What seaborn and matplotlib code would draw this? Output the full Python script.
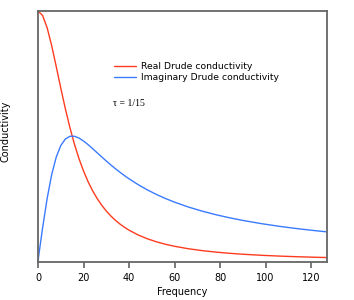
import matplotlib
matplotlib.use("Agg")
import matplotlib.pyplot as plt
import seaborn as sns
import pandas as pd

frequency = [0, 2, 4, 6, 8, 10, 12, 14, 16, 18, 20, 22, 24, 26, 28, 30, 32, 34, 36, 38, 40,
             44, 48, 52, 56, 60, 66, 72, 78, 84, 90, 98, 106, 114, 122, 128]
real_sigma = [1.0, 0.9825, 0.9336, 0.8621, 0.7785, 0.6923, 0.6098, 0.5344, 0.4678, 0.4098,
              0.3600, 0.3174, 0.2809, 0.2497, 0.2230, 0.2000, 0.1801, 0.1629, 0.1479, 0.1348,
              0.1233, 0.1041, 0.0890, 0.0768, 0.0669, 0.0588, 0.0491, 0.0416, 0.0357, 0.0309,
              0.0270, 0.0229, 0.0196, 0.0170, 0.0149, 0.0135]
imag_sigma = [0.0, 0.1310, 0.2490, 0.3448, 0.4152, 0.4615, 0.4878, 0.4988, 0.4990, 0.4918,
              0.4800, 0.4655, 0.4494, 0.4328, 0.4163, 0.4000, 0.3843, 0.3693, 0.3550, 0.3415,
              0.3288, 0.3054, 0.2847, 0.2663, 0.2499, 0.2353, 0.2161, 0.1997, 0.1855, 0.1731,
              0.1622, 0.1496, 0.1387, 0.1293, 0.1211, 0.1156]
series_names = ["Real Drude conductivity", "Imaginary Drude conductivity"]
x_ticks = [0, 20, 40, 60, 80, 100, 120]

df = pd.DataFrame({
    "Frequency": frequency * 2,
    "Conductivity": real_sigma + imag_sigma,
    "series": [series_names[0]] * len(frequency) + [series_names[1]] * len(frequency),
})

sns.set_style("ticks")
plt.rcParams['font.family'] = ['DejaVu Sans']
plt.rcParams['text.color'] = 'black'
plt.rcParams['axes.labelcolor'] = 'black'

fig = plt.figure(figsize=(3.54, 3.0), dpi=100)
ax = fig.add_axes([0.1073, 0.1267, 0.8167, 0.8366])

sns.lineplot(data=df, x="Frequency", y="Conductivity", hue="series",
             palette={series_names[0]: "#ff3b1f", series_names[1]: "#3a7bff"},
             linewidth=1.0, ax=ax)

ax.set_xlim(0, 127)
ax.set_ylim(-0.004, 1.0)
ax.set_xticks(x_ticks)
ax.set_yticks([])
ax.tick_params(axis='x', direction='out', length=4, width=1.1, colors='#555555',
               labelsize=7, labelcolor='black', pad=4)
for s in ax.spines.values():
    s.set_visible(True)
    s.set_color('#666666')
    s.set_linewidth(1.3)
ax.set_xlabel("Frequency", fontsize=7, labelpad=3, color='black')
ax.set_ylabel("Conductivity", fontsize=7, color='black')
ax.yaxis.set_label_coords(-0.096, 0.52)

leg = ax.legend(loc='upper left', bbox_to_anchor=(0.262, 0.795), frameon=False,
                fontsize=6.7, handlelength=2.4, handletextpad=0.5, labelspacing=0.2,
                borderaxespad=0, borderpad=0, labelcolor='black')
ax.text(0.26, 0.63, "τ = 1/15", transform=ax.transAxes, fontsize=7, color='black',
        family='Liberation Serif', va='center', ha='left')

fig.savefig("out.png", dpi=100)
